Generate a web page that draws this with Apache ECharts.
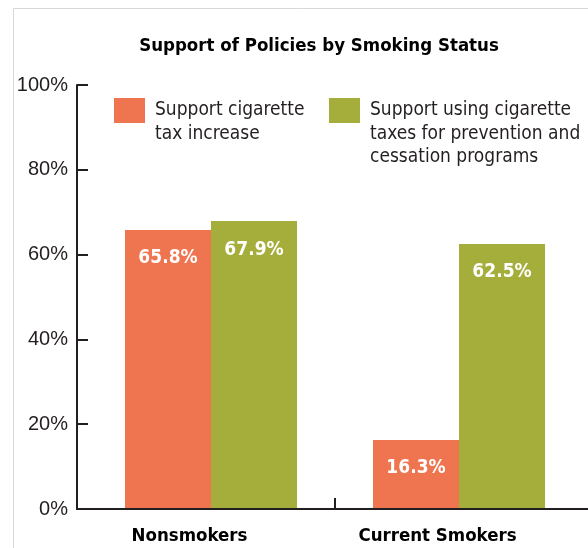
<!DOCTYPE html>
<html lang="en">
<head>
  <meta charset="UTF-8">
  <title>Support of Policies by Smoking Status</title>
  <script src="https://cdn.jsdelivr.net/npm/echarts@6/dist/echarts.min.js"></script>
  <style>
    html, body { margin: 0; padding: 0; background: #fff; }
    #chart { width: 588px; height: 548px; }
  </style>
</head>
<body>
  <div id="chart"></div>

  <script>
    // data
    const categories = ['Nonsmokers', 'Current Smokers'];
    const seriesNames = [
      'Support cigarette\ntax increase',
      'Support using cigarette\ntaxes for prevention and\ncessation programs'
    ];
    const taxIncrease = [65.8, 16.3];
    const preventionPrograms = [67.9, 62.5];
    const yTicks = [0, 20, 40, 60, 80, 100];

    const ORANGE = '#ef7450';
    const GREEN = '#a5ae3a';
    const INK = '#231f20';
    const NARROW = "'Liberation Sans Narrow', 'DejaVu Sans Condensed', sans-serif";
    const LH = 23.5; // legend line height

    const chart = echarts.init(document.getElementById('chart'));

    const barLabel = {
      show: true,
      position: 'insideTop',
      distance: 19,
      color: '#fff',
      fontFamily: NARROW,
      fontWeight: 'bold',
      fontSize: 19,
      formatter: p => p.value.toFixed(1) + '%'
    };

    // legend text is centred on the swatch, so blank lines in front push
    // the first real line down next to it
    function legendFor(name, lines, left, top) {
      return {
        left: left,
        top: top,
        padding: 0,
        icon: 'rect',
        itemWidth: 31,
        itemHeight: 25,
        selectedMode: false,
        formatter: n => '\n'.repeat(lines - 1) + n,
        textStyle: {
          fontFamily: NARROW,
          fontSize: 19,
          lineHeight: LH,
          color: INK,
          padding: [0, 0, 0, 5]
        },
        data: [name]
      };
    }

    const option = {
      animation: false,
      backgroundColor: '#fff',
      title: {
        text: 'Support of Policies by Smoking Status',
        left: 314,
        top: 32,
        textAlign: 'center',
        textStyle: {
          fontFamily: NARROW,
          fontWeight: 'bold',
          fontSize: 18.5,
          color: '#000'
        }
      },
      legend: [
        legendFor(seriesNames[0], 2, 114, 98 - (1.5 * LH - 12.5)),
        legendFor(seriesNames[1], 3, 329, 98 - (2.5 * LH - 12.5))
      ],
      grid: { left: 87, right: 5, top: 85, bottom: 39 },
      xAxis: {
        type: 'category',
        data: categories,
        axisLine: { show: false },
        axisTick: { show: false },
        axisLabel: {
          interval: 0,
          margin: 18,
          color: '#000',
          fontFamily: NARROW,
          fontWeight: 'bold',
          fontSize: 18.5,
          padding: [0, 43, 0, 0]
        }
      },
      yAxis: {
        type: 'value',
        min: yTicks[0],
        max: yTicks[yTicks.length - 1],
        interval: yTicks[1] - yTicks[0],
        offset: 10,
        splitLine: { show: false },
        axisLine: { show: true, lineStyle: { color: INK, width: 2 } },
        axisTick: { show: true, inside: true, length: 11, lineStyle: { color: INK, width: 2 } },
        axisLabel: {
          margin: 9,
          color: INK,
          fontFamily: "'Liberation Sans', Arial, sans-serif",
          fontSize: 20,
          formatter: '{value}%'
        }
      },
      series: [
        {
          name: seriesNames[0],
          type: 'bar',
          data: taxIncrease,
          barWidth: 86,
          barGap: '0%',
          itemStyle: { color: ORANGE },
          label: barLabel
        },
        {
          name: seriesNames[1],
          type: 'bar',
          data: preventionPrograms,
          barWidth: 86,
          barGap: '0%',
          itemStyle: { color: GREEN },
          label: barLabel
        }
      ]
    };

    chart.setOption(option);

    // frame, x axis line and the middle tick between the two groups
    const y0 = chart.convertToPixel({ yAxisIndex: 0 }, 0);
    const xa = chart.convertToPixel({ xAxisIndex: 0 }, categories[0]);
    const xb = chart.convertToPixel({ xAxisIndex: 0 }, categories[1]);
    const axisX = option.grid.left - option.yAxis.offset;
    const mid = (xa + xb) / 2;

    chart.setOption({
      graphic: [
        {
          type: 'rect',
          z: -1,
          shape: { x: 13.5, y: 8.5, width: 700, height: 700 },
          style: { fill: 'none', stroke: '#d8d8d8', lineWidth: 1 }
        },
        {
          type: 'line',
          z: 10,
          shape: { x1: axisX - 1, y1: y0, x2: 588, y2: y0 },
          style: { stroke: INK, lineWidth: 2 }
        },
        {
          type: 'line',
          z: 10,
          shape: { x1: mid, y1: y0, x2: mid, y2: y0 - 11 },
          style: { stroke: INK, lineWidth: 2 }
        }
      ]
    });
  </script>
</body>
</html>
